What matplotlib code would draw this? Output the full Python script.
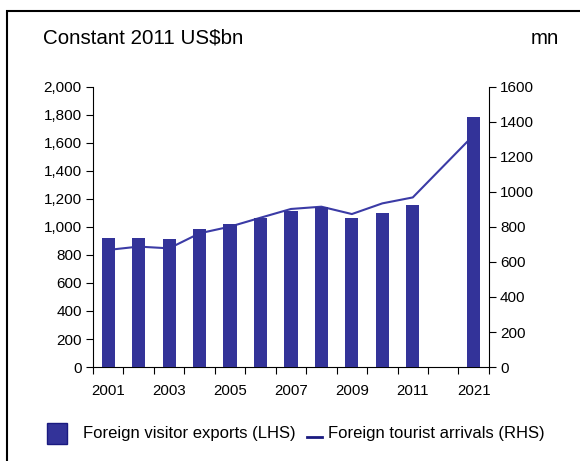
import matplotlib
matplotlib.use("Agg")
import matplotlib.pyplot as plt
from matplotlib.patches import Rectangle
from matplotlib.lines import Line2D
from matplotlib.ticker import FuncFormatter, MultipleLocator
import numpy as np

plt.rcParams["font.family"] = ["Liberation Sans", "DejaVu Sans"]

# data (2012-2020 gap left empty)
years = ["2001", "2002", "2003", "2004", "2005", "2006", "2007",
         "2008", "2009", "2010", "2011", "", "2021"]
exports_bn = [920, 920, 912, 986, 1021, 1066, 1114,
              1145, 1066, 1100, 1157, np.nan, 1784]
arrivals_mn = [669, 688, 678, 764, 802, 853, 903,
               916, 874, 935, 969, np.nan, 1325]
xlabels = ["2001", "", "2003", "", "2005", "", "2007",
           "", "2009", "", "2011", "", "2021"]

bar_color = "#333399"
line_color = "#3b3ba6"

fig = plt.figure(figsize=(5.8, 4.61), dpi=100)
ax = fig.add_axes([0.1603, 0.2039, 0.8430 - 0.1603, 0.8113 - 0.2039])
ax2 = ax.twinx()

x = np.arange(len(years))
ax.bar(x, exports_bn, width=0.43, color=bar_color, zorder=3)

# line: skip the gap by joining 2011 straight to 2021
arr = np.array(arrivals_mn, dtype=float)
mask = ~np.isnan(arr)
ax2.plot(x[mask], arr[mask], color=line_color, lw=1.5)

# bars on top of the line
ax.set_zorder(ax2.get_zorder() + 1)
ax.patch.set_visible(False)

ax.set_xlim(-0.5, len(years) - 0.5)
ax.set_ylim(0, 2000)
ax2.set_ylim(0, 1600)

ax.yaxis.set_major_locator(MultipleLocator(200))
ax.yaxis.set_major_formatter(FuncFormatter(lambda v, p: f"{int(v):,}"))
ax2.yaxis.set_major_locator(MultipleLocator(200))

ax.set_xticks(x)
ax.set_xticklabels(xlabels)
ax.set_xticks(np.arange(-0.5, len(years)), minor=True)
ax.tick_params(axis="x", which="major", length=0, pad=12, labelsize=10.8)
ax.tick_params(axis="x", which="minor", length=5, width=0.8, direction="out")
ax.tick_params(axis="y", length=5, width=0.8, labelsize=11, pad=3)
ax2.tick_params(axis="y", length=5, width=0.8, labelsize=11, pad=3)

for s in ["top", "right"]:
    ax.spines[s].set_visible(False)
for s in ["top", "left", "bottom"]:
    ax2.spines[s].set_visible(False)
for a in (ax, ax2):
    for s in a.spines.values():
        s.set_linewidth(0.8)

fig.text(43 / 580, 1 - 38 / 461, "Constant 2011 US$bn", fontsize=14.8,
         va="center", ha="left")
fig.text(559 / 580, 1 - 38 / 461, "mn", fontsize=14.8, va="center", ha="right")

# frame around the chart (cropped at right and bottom)
fig.patches.append(Rectangle((7 / 580, -0.05), 1.0, 1 - 11 / 461 + 0.05,
                             transform=fig.transFigure, fill=False,
                             edgecolor="black", lw=1.5))

# legend drawn by hand
fig.patches.append(Rectangle((47 / 580, 1 - 444 / 461), 20 / 580, 21 / 461,
                             transform=fig.transFigure, facecolor=bar_color,
                             edgecolor="#1a1a80", lw=1))
fig.text(83 / 580, 1 - 433 / 461, "Foreign visitor exports (LHS)",
         fontsize=12, va="center", ha="left")
fig.lines.append(Line2D([307 / 580, 322 / 580], [1 - 437 / 461] * 2,
                        transform=fig.transFigure, color="#1a1a80", lw=2))
fig.text(328 / 580, 1 - 433 / 461, "Foreign tourist arrivals (RHS)",
         fontsize=12, va="center", ha="left")

fig.savefig("out.png", dpi=100)
